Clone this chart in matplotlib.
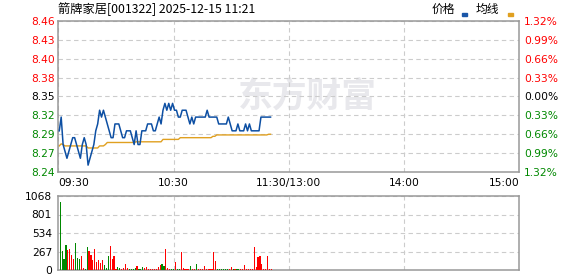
import numpy as np
import matplotlib
matplotlib.use("Agg")
import matplotlib.pyplot as plt
from matplotlib.patches import Rectangle

# intraday data, one value per minute from 09:30
price = [8.30, 8.32, 8.28, 8.27, 8.26, 8.27, 8.28, 8.29, 8.29, 8.28,
         8.27, 8.26, 8.28, 8.29, 8.28, 8.25, 8.26, 8.27, 8.28, 8.30,
         8.31, 8.33, 8.32, 8.33, 8.32, 8.31, 8.30, 8.29, 8.29, 8.31,
         8.31, 8.31, 8.30, 8.29, 8.29, 8.30, 8.30, 8.30, 8.29, 8.28,
         8.30, 8.28, 8.28, 8.30, 8.30, 8.30, 8.31, 8.31, 8.31, 8.30,
         8.30, 8.31, 8.32, 8.31, 8.33, 8.34, 8.33, 8.34, 8.33, 8.34,
         8.33, 8.33, 8.32, 8.32, 8.33, 8.33, 8.33, 8.32, 8.31, 8.32,
         8.31, 8.32, 8.32, 8.32, 8.32, 8.32, 8.32, 8.33, 8.32, 8.32,
         8.32, 8.32, 8.32, 8.31, 8.31, 8.31, 8.31, 8.31, 8.32, 8.31,
         8.30, 8.30, 8.30, 8.31, 8.30, 8.30, 8.30, 8.31, 8.30, 8.31,
         8.30, 8.30, 8.30, 8.30, 8.30, 8.32, 8.32, 8.32, 8.32, 8.32,
         8.32]

avg_price = [8.278, 8.281, 8.280, 8.278, 8.278, 8.278, 8.278, 8.278, 8.278, 8.278,
             8.278, 8.278, 8.278, 8.278, 8.278, 8.275, 8.275, 8.275, 8.275, 8.275,
             8.275, 8.278, 8.278, 8.278, 8.280, 8.283, 8.283, 8.283, 8.283, 8.283,
             8.283, 8.283, 8.283, 8.283, 8.283, 8.283, 8.283, 8.283, 8.283, 8.283,
             8.284, 8.284, 8.284, 8.284, 8.284, 8.284, 8.284, 8.284, 8.284, 8.284,
             8.284, 8.284, 8.284, 8.284, 8.2875, 8.2875, 8.2875, 8.2875, 8.2875, 8.2875,
             8.2875, 8.2875, 8.2875, 8.290, 8.290, 8.290, 8.290, 8.290, 8.290, 8.290,
             8.290, 8.290, 8.290, 8.290, 8.290, 8.290, 8.290, 8.290, 8.290, 8.290,
             8.292, 8.292, 8.294, 8.294, 8.294, 8.294, 8.294, 8.294, 8.294, 8.294,
             8.294, 8.294, 8.294, 8.294, 8.294, 8.294, 8.294, 8.294, 8.294, 8.294,
             8.294, 8.294, 8.294, 8.294, 8.294, 8.294, 8.294, 8.294, 8.294, 8.295,
             8.295]

volume = [981, 274, 159, 361, 289, 303, 216, 159, 390, 178,
          159, 202, 29, 14, 332, 279, 216, 144, 303, 120,
          144, 106, 144, 72, 29, 202, 346, 159, 202, 14,
          38, 29, 14, 29, 87, 29, 14, 14, 14, 29,
          58, 14, 14, 38, 29, 38, 14, 14, 14, 14,
          14, 48, 72, 87, 58, 298, 29, 14, 14, 14,
          120, 14, 14, 260, 29, 14, 14, 14, 58, 14,
          14, 87, 14, 14, 14, 58, 14, 14, 14, 14,
          260, 130, 14, 14, 14, 14, 14, 14, 14, 38,
          14, 14, 14, 14, 14, 14, 72, 14, 14, 14,
          14, 332, 38, 183, 207, 87, 14, 14, 202, 14,
          14]

vol_dir = list("ggggrrrrgg" "grrggrrrrr" "rrrgggrrrr"
               "ggrrrrgggg" "rgggrrrrrr" "rrrggrrrgg"
               "rggrrrrrgr" "rgrrrrrrrr" "rrggggggrr"
               "grggrrrrrr" "rrrrrrrrrr" "r")

price_ticks = ["8.24", "8.27", "8.29", "8.32", "8.35", "8.38", "8.40", "8.43", "8.46"]
pct_ticks = ["1.32%", "0.99%", "0.66%", "0.33%", "0.00%", "0.33%", "0.66%", "0.99%", "1.32%"]
vol_ticks = [0, 267, 534, 801, 1068]
time_labels = ["09:30", "10:30", "11:30/13:00", "14:00", "15:00"]

RED = "#ff0000"
GREEN = "#008800"
GRID = "#cccccc"
EDGE = "#999999"

fig = plt.figure(figsize=(5.78, 2.76), dpi=100)
ax = fig.add_axes([58.3 / 578, 1 - 172 / 276, 461 / 578, 151 / 276])
axv = fig.add_axes([58.3 / 578, 1 - 270 / 276, 461 / 578, 74 / 276])

x = np.arange(len(price)) + 0.5

# watermark
ax.text(0.54, 0.5, "东方财富", transform=ax.transAxes, ha="center", va="center",
        fontsize=25, fontweight="bold", color="#e8e8ec", family=["Noto Sans CJK SC"], zorder=0)

ax.plot(x, price, color="#0d4fa3", lw=1.1, zorder=3)
ax.plot(x, avg_price, color="#e0a020", lw=1.0, zorder=2)

ymin, ymax = 8.24, 8.46
yt = np.linspace(ymin, ymax, len(price_ticks))
ax.set_ylim(ymin, ymax)
ax.set_xlim(0, 240)
ax.set_yticks(yt)
ax.set_yticklabels(price_ticks)
ax.set_xticks([0, 60, 120, 180, 240])
ax.set_xticklabels(time_labels)
ax.tick_params(axis="y", length=0, labelsize=7.7, pad=2.5)
ax.tick_params(axis="x", length=0, labelsize=7.7, pad=4)
ax.get_xticklabels()[0].set_ha("left")
ax.get_xticklabels()[-1].set_ha("right")

ax2 = ax.twinx()
ax2.set_ylim(ymin, ymax)
ax2.set_yticks(yt)
ax2.set_yticklabels(pct_ticks)
ax2.tick_params(length=0, labelsize=7.7, pad=3.5)

for i, (t1, t2) in enumerate(zip(ax.get_yticklabels(), ax2.get_yticklabels())):
    c = GREEN if i < 4 else ("black" if i == 4 else RED)
    t1.set_color(c)
    t2.set_color(c)

for a in (ax, axv):
    a.grid(True, color=GRID, ls=(0, (4, 3)), lw=0.8)
    for s in a.spines.values():
        s.set_color(EDGE)
        s.set_linewidth(1.1)
for s in ax2.spines.values():
    s.set_visible(False)

# volume
cols = [RED if d == "r" else GREEN for d in vol_dir]
axv.bar(np.arange(len(volume)) + 1.0, volume, width=0.6, color=cols, zorder=3)
axv.set_xlim(0, 240)
axv.set_ylim(0, 1068)
axv.set_yticks(vol_ticks)
axv.set_xticks([60, 120, 180])
axv.tick_params(length=0, labelsize=7.7, pad=4.5, labelbottom=False)
axv.grid(True, color=GRID, ls=(0, (4, 3)), lw=0.8)
axv.set_axisbelow(True)

# header
fig.text(58 / 578, 1 - 9 / 276, "箭牌家居[001322] 2025-12-15 11:21", ha="left", va="center",
         fontsize=8.8, family=["Noto Sans CJK SC", "DejaVu Sans"])
fig.text(431.5 / 578, 1 - 9.5 / 276, "价格", ha="left", va="center", fontsize=8.5,
         family=["Noto Sans CJK SC"])
fig.text(476 / 578, 1 - 9.5 / 276, "均线", ha="left", va="center", fontsize=8.5,
         family=["Noto Sans CJK SC"])
fig.add_artist(Rectangle((462 / 578, 1 - 15.8 / 276), 5 / 578, 2.6 / 276,
                         transform=fig.transFigure, color="#1a56a8"))
fig.add_artist(Rectangle((508 / 578, 1 - 15.8 / 276), 5 / 578, 2.6 / 276,
                         transform=fig.transFigure, color="#e0a020"))

fig.savefig("out.png", dpi=100)
